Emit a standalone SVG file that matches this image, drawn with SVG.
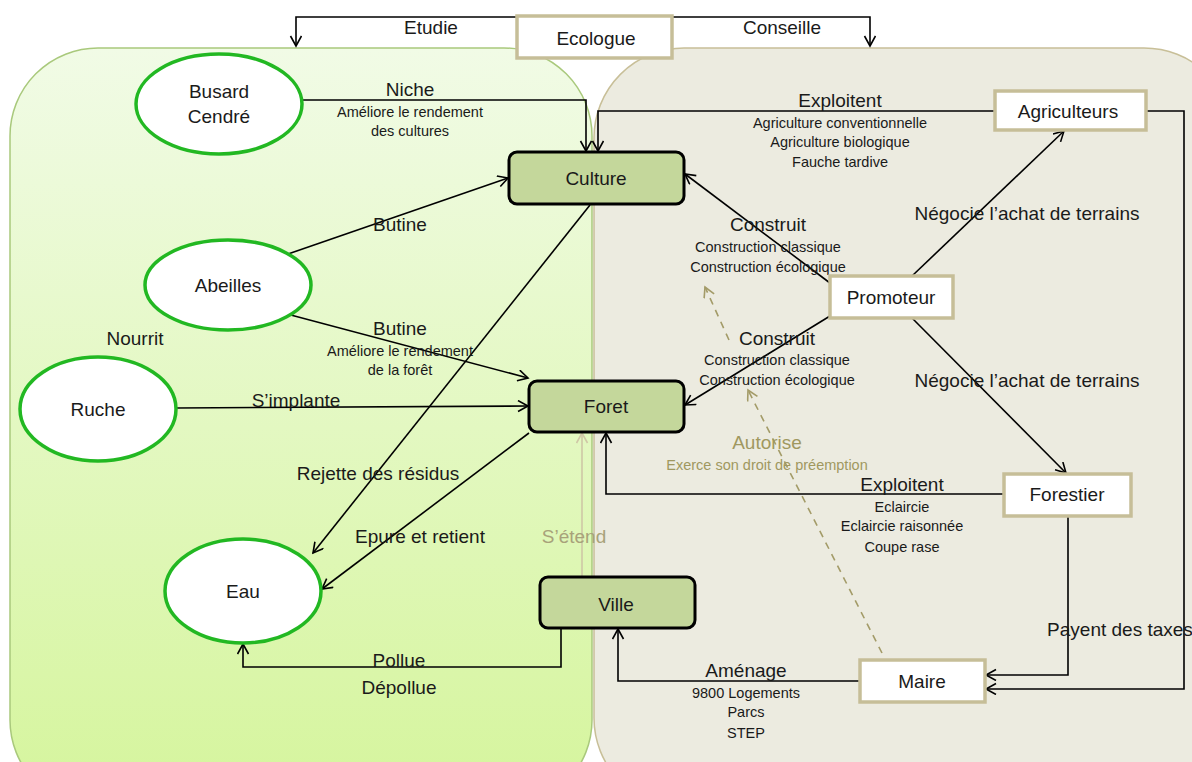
<svg xmlns="http://www.w3.org/2000/svg" width="1192" height="762" viewBox="0 0 1192 762">
<defs>
<linearGradient id="gGreen" x1="0" y1="0" x2="0" y2="1">
<stop offset="0" stop-color="#f1fbe6"/>
<stop offset="1" stop-color="#d5f59c"/>
</linearGradient>
<marker id="arr" markerUnits="userSpaceOnUse" markerWidth="16" markerHeight="16" refX="11" refY="6" orient="auto">
<path d="M1,0.5 L11,6 L1,11.5" fill="none" stroke="#000" stroke-width="1.6"/>
</marker>
<marker id="arrTan" markerUnits="userSpaceOnUse" markerWidth="16" markerHeight="16" refX="11" refY="6" orient="auto">
<path d="M1,0.5 L11,6 L1,11.5" fill="none" stroke="#cfc7a6" stroke-width="1.6"/>
</marker>
<marker id="arrOl" markerUnits="userSpaceOnUse" markerWidth="16" markerHeight="16" refX="11" refY="6" orient="auto">
<path d="M1,0.5 L11,6 L1,11.5" fill="none" stroke="#a39b68" stroke-width="1.6"/>
</marker>
</defs>
<style>
text{font-family:"Liberation Sans","Open Sans",sans-serif;fill:#1a1a1a;text-anchor:middle}
.t{font-size:19px}
.s{font-size:14.5px}
.ell{fill:#fff;stroke:#22b822;stroke-width:3.5}
.gb{fill:#c4d79b;stroke:#000;stroke-width:3}
.wb{fill:#fff;stroke:#c6be98;stroke-width:3.5}
.c{fill:none;stroke:#000;stroke-width:1.6;marker-end:url(#arr)}
.ct{fill:none;stroke:#cfc7a6;stroke-width:1.6;marker-end:url(#arrTan)}
.cd{fill:none;stroke:#a39b68;stroke-width:1.6;stroke-dasharray:7,6;marker-end:url(#arrOl)}
.tan{fill:#a8a27a}
.ol{fill:#a0985f}
</style>
<rect x="0" y="0" width="1192" height="762" fill="#fff"/>
<g id="panels">
<rect x="594" y="48" width="640" height="760" rx="90" ry="90" fill="#ecebe0" stroke="#c8bf98" stroke-width="1.5"/>
<rect x="10" y="48" width="582" height="760" rx="88" ry="88" fill="url(#gGreen)" stroke="#a9c97c" stroke-width="1.5"/>
</g>
<g id="connectors">
<polyline class="c" points="517,17 296,17 296,46"/>
<polyline class="c" points="672,17 870,17 870,46"/>
<polyline class="c" points="302,100 586,100 586,151"/>
<polyline class="c" points="995,111 598,111 598,151"/>
<line class="c" x1="288" y1="254" x2="508" y2="178"/>
<line class="c" x1="287" y1="314" x2="528" y2="378"/>
<line class="c" x1="176" y1="408" x2="528" y2="406"/>
<line class="c" x1="590" y1="205" x2="313" y2="553"/>
<line class="c" x1="529" y1="433" x2="322" y2="589"/>
<polyline class="c" points="561,628 561,667 243,667 243,644"/>
<line class="ct" x1="582" y1="577" x2="582" y2="433"/>
<line class="c" x1="830" y1="283" x2="685" y2="174"/>
<line class="c" x1="830" y1="316" x2="685" y2="405"/>
<line class="c" x1="912" y1="276" x2="1064" y2="131"/>
<line class="c" x1="912" y1="318" x2="1066" y2="473"/>
<polyline class="c" points="1004,494 606,494 606,433"/>
<polyline class="c" points="1068,516 1068,675 986,675"/>
<polyline class="c" points="1146,111 1184,111 1184,689 986,689"/>
<polyline class="c" points="860,681 618,681 618,629"/>
<line class="cd" x1="882" y1="653" x2="748" y2="390"/>
<line class="cd" x1="729" y1="340" x2="705" y2="287"/>
</g>
<g id="labels">
<text class="t" x="431" y="34">Etudie</text>
<text class="t" x="782" y="34">Conseille</text>
<text class="t" x="410" y="96">Niche</text>
<text class="s" x="410" y="117">Améliore le rendement</text>
<text class="s" x="410" y="136">des cultures</text>
<text class="t" x="840" y="107">Exploitent</text>
<text class="s" x="840" y="128">Agriculture conventionnelle</text>
<text class="s" x="840" y="147">Agriculture biologique</text>
<text class="s" x="840" y="167">Fauche tardive</text>
<text class="t" x="400" y="231">Butine</text>
<text class="t" x="400" y="335">Butine</text>
<text class="s" x="400" y="356">Améliore le rendement</text>
<text class="s" x="400" y="375">de la forêt</text>
<text class="t" x="135" y="345">Nourrit</text>
<text class="t" x="296" y="407">S’implante</text>
<text class="t" x="378" y="480">Rejette des résidus</text>
<text class="t" x="420" y="543">Epure et retient</text>
<text class="t tan" x="574" y="543">S’étend</text>
<text class="t" x="399" y="667">Pollue</text>
<text class="t" x="399" y="694">Dépollue</text>
<text class="t" x="768" y="231">Construit</text>
<text class="s" x="768" y="252">Construction classique</text>
<text class="s" x="768" y="272">Construction écologique</text>
<text class="t" x="777" y="345">Construit</text>
<text class="s" x="777" y="365">Construction classique</text>
<text class="s" x="777" y="385">Construction écologique</text>
<text class="t" x="1027" y="220">Négocie l’achat de terrains</text>
<text class="t" x="1027" y="387">Négocie l’achat de terrains</text>
<text class="t ol" x="767" y="449">Autorise</text>
<text class="s ol" x="767" y="470">Exerce son droit de préemption</text>
<text class="t" x="902" y="491">Exploitent</text>
<text class="s" x="902" y="512">Eclaircie</text>
<text class="s" x="902" y="531">Eclaircie raisonnée</text>
<text class="s" x="902" y="552">Coupe rase</text>
<text class="t" x="1120" y="636">Payent des taxes</text>
<text class="t" x="746" y="677">Aménage</text>
<text class="s" x="746" y="698">9800 Logements</text>
<text class="s" x="746" y="717">Parcs</text>
<text class="s" x="746" y="738">STEP</text>
</g>
<g id="ecologue"><rect class="wb" x="517" y="16" width="155" height="42"/><text class="t" x="596" y="45">Ecologue</text></g>
<g id="busard"><ellipse class="ell" cx="219" cy="104" rx="83" ry="50"/><text class="t" x="219" y="98">Busard</text><text class="t" x="219" y="123">Cendré</text></g>
<g id="abeilles"><ellipse class="ell" cx="228" cy="285" rx="83" ry="45"/><text class="t" x="228" y="292">Abeilles</text></g>
<g id="ruche"><ellipse class="ell" cx="98" cy="409" rx="78" ry="52"/><text class="t" x="98" y="416">Ruche</text></g>
<g id="eau"><ellipse class="ell" cx="243" cy="591" rx="78" ry="52"/><text class="t" x="243" y="598">Eau</text></g>
<g id="culture"><rect class="gb" x="509" y="152" width="175" height="52" rx="8"/><text class="t" x="596" y="185">Culture</text></g>
<g id="foret"><rect class="gb" x="529" y="381" width="155" height="51" rx="8"/><text class="t" x="606" y="413">Foret</text></g>
<g id="ville"><rect class="gb" x="540" y="577" width="155" height="51" rx="8"/><text class="t" x="616" y="611">Ville</text></g>
<g id="agriculteurs"><rect class="wb" x="995" y="91" width="151" height="39"/><text class="t" x="1068" y="118">Agriculteurs</text></g>
<g id="promoteur"><rect class="wb" x="830" y="276" width="123" height="42"/><text class="t" x="891" y="304">Promoteur</text></g>
<g id="forestier"><rect class="wb" x="1004" y="474" width="127" height="42"/><text class="t" x="1067" y="501">Forestier</text></g>
<g id="maire"><rect class="wb" x="860" y="660" width="125" height="42"/><text class="t" x="922" y="688">Maire</text></g>
</svg>
